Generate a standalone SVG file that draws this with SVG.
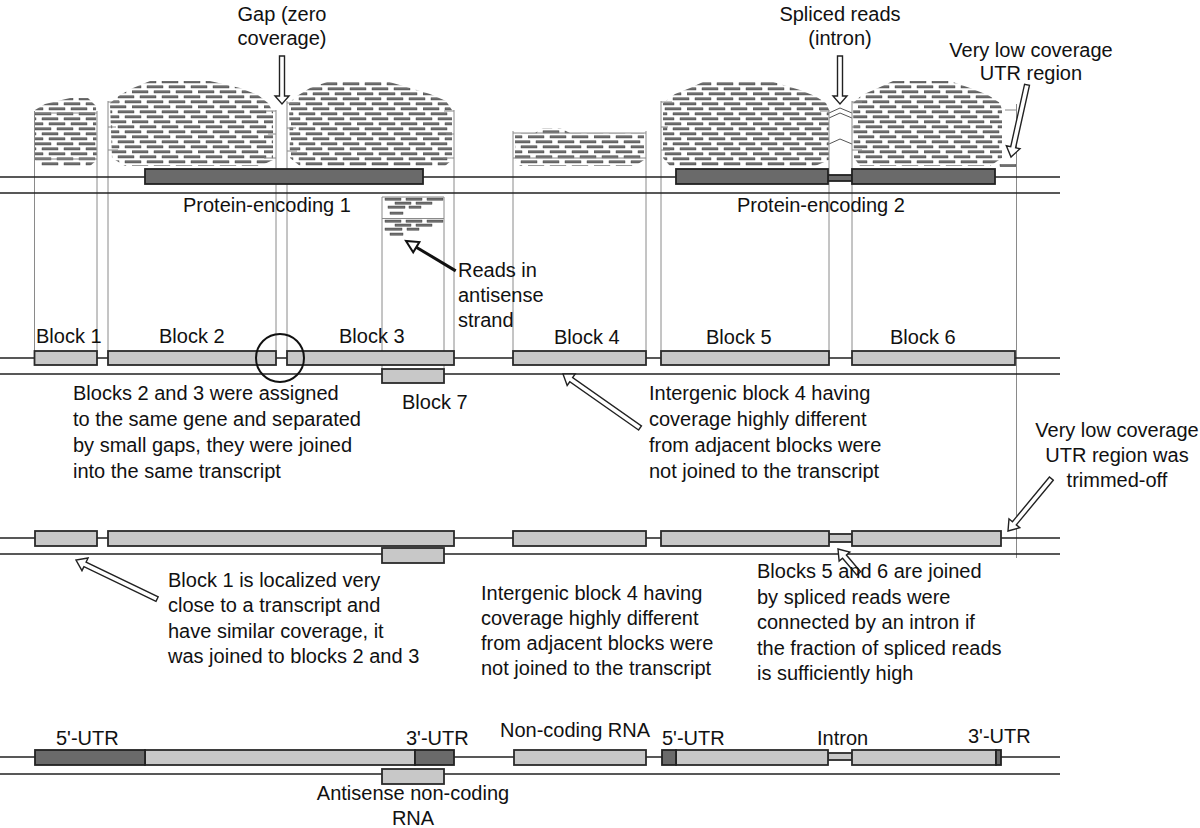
<svg xmlns="http://www.w3.org/2000/svg" width="1200" height="828" viewBox="0 0 1200 828">
<style>
text{font-family:"Liberation Sans",Arial,Helvetica,sans-serif;font-size:20px;fill:#111}
.trk{stroke:#222;stroke-width:1.6;fill:none}
.blk{fill:#c8c8c8;stroke:#2a2a2a;stroke-width:1.8}
.dk{fill:#6a6a6a;stroke:#222;stroke-width:1.8}
.vl{stroke:#8a8a8a;stroke-width:1;fill:none}
.hw{fill:#fff;stroke:#222;stroke-width:1.4}
.rd{fill:#6e6e6e;stroke:#333;stroke-width:0.4}
.sp{fill:none;stroke:#555;stroke-width:1}
</style>
<defs>
<pattern id="reads" width="66" height="15" patternUnits="userSpaceOnUse">
<rect class="rd" x="0" y="0.8" width="16" height="2.2"/>
<rect class="rd" x="22" y="0.8" width="16" height="2.2"/>
<rect class="rd" x="44" y="0.8" width="16" height="2.2"/>
<rect class="rd" x="-14" y="5.8" width="16" height="2.2"/>
<rect class="rd" x="8" y="5.8" width="16" height="2.2"/>
<rect class="rd" x="30" y="5.8" width="16" height="2.2"/>
<rect class="rd" x="52" y="5.8" width="16" height="2.2"/>
<rect class="rd" x="-7" y="10.8" width="16" height="2.2"/>
<rect class="rd" x="15" y="10.8" width="16" height="2.2"/>
<rect class="rd" x="37" y="10.8" width="16" height="2.2"/>
<rect class="rd" x="59" y="10.8" width="16" height="2.2"/>
</pattern>
<pattern id="reads2" width="66" height="15" patternUnits="userSpaceOnUse" patternTransform="translate(27,2)">
<rect class="rd" x="0" y="0.8" width="16" height="2.2"/>
<rect class="rd" x="22" y="0.8" width="16" height="2.2"/>
<rect class="rd" x="44" y="0.8" width="16" height="2.2"/>
<rect class="rd" x="-14" y="5.8" width="16" height="2.2"/>
<rect class="rd" x="8" y="5.8" width="16" height="2.2"/>
<rect class="rd" x="30" y="5.8" width="16" height="2.2"/>
<rect class="rd" x="52" y="5.8" width="16" height="2.2"/>
<rect class="rd" x="-7" y="10.8" width="16" height="2.2"/>
<rect class="rd" x="15" y="10.8" width="16" height="2.2"/>
<rect class="rd" x="37" y="10.8" width="16" height="2.2"/>
<rect class="rd" x="59" y="10.8" width="16" height="2.2"/>
</pattern>
</defs>

<!-- read piles -->
<g id="reads-piles">
<polygon fill="url(#reads2)" points="70,98 88,98 96,106 97,160 90,166 40,166 35,160 35,110 45,104"/>
<polygon fill="url(#reads)" points="150,81 210,81 240,88 258,95 268,103 273,112 273,160 260,166 125,166 112,158 110,103 120,95 133,88"/>
<polygon fill="url(#reads2)" points="330,81 386,81 410,88 430,94 446,101 452,110 452,160 445,166 300,166 290,158 289,103 297,96 310,88"/>
<polygon fill="url(#reads)" points="543,128 560,128 570,133 644,133 644,160 635,166 520,166 515,160 515,133 535,133"/>
<polygon fill="url(#reads2)" points="705,81 770,81 800,90 815,96 826,103 829,110 829,160 815,166 670,166 663,158 663,103 675,94 690,88"/>
<polygon fill="url(#reads)" points="893,81 950,81 970,88 988,95 1000,103 1002,110 1002,158 990,166 860,166 854,158 853,103 862,95 878,88"/>
<rect class="rd" x="1000" y="164.5" width="16" height="2.2"/>
<!-- spliced reads -->
<polyline class="sp" points="829,113 840,108 852,113"/>
<polyline class="sp" points="829,118 840,113 852,118"/>
<polyline class="sp" points="829,144 840,139 852,144"/>
<!-- antisense reads -->
<rect class="rd" x="385" y="198" width="16" height="2.2"/>
<rect class="rd" x="406" y="198" width="16" height="2.2"/>
<rect class="rd" x="427" y="198" width="16" height="2.2"/>
<rect class="rd" x="395" y="202" width="16" height="2.2"/>
<rect class="rd" x="416" y="202" width="16" height="2.2"/>
<rect class="rd" x="388" y="206" width="17" height="2.2"/>
<rect class="rd" x="409" y="206" width="12" height="2.2"/>
<rect class="rd" x="390" y="212" width="13" height="2.2"/>
<rect class="rd" x="385" y="220" width="16" height="2.2"/>
<rect class="rd" x="406" y="220" width="16" height="2.2"/>
<rect class="rd" x="427" y="220" width="16" height="2.2"/>
<rect class="rd" x="395" y="224" width="16" height="2.2"/>
<rect class="rd" x="416" y="224" width="16" height="2.2"/>
<rect class="rd" x="385" y="228" width="17" height="2.2"/>
<rect class="rd" x="407" y="228" width="12" height="2.2"/>
<rect class="rd" x="390" y="233" width="13" height="2.2"/>
</g>

<!-- block boundary guides -->
<g id="guides">
<path class="vl" d="M34.5,111V351 M97,111V351 M108,101V351 M276,110V351 M287,101V351 M454,110V351 M382,197V369 M444,197V369 M513,131V351 M646,131V351 M661,101V351 M829,110V351 M852,101V351 M1016.5,104V558"/>
<path class="vl" d="M34.5,113H97 M34.5,159H97 M108,102H120 M108,127H116 M108,150H118 M266,111H276 M268,134H276 M264,158H276 M287,103H298 M287,128H296 M287,151H297 M444,111H454 M446,134H454 M443,158H454 M382,197H444 M382,218.5H444 M513,133H646 M513,158H646 M661,102H672 M661,127H668 M661,150H670 M820,111H829 M852,102H862 M852,127H860 M852,150H862 M1005,110H1016"/>
</g>

<!-- track lines -->
<g id="tracks">
<path class="trk" d="M0,177H1060 M0,193H1060 M0,358H1060 M0,374H1060 M0,538H1060 M0,554H1060 M0,757H1060 M0,774H1060"/>
</g>

<!-- track 1 -->
<g id="protein1"><rect class="dk" x="145" y="169" width="278" height="15"/></g>
<g id="protein2">
<rect class="dk" x="828" y="175" width="24" height="6"/>
<rect class="dk" x="676" y="169" width="152" height="15"/>
<rect class="dk" x="852" y="169" width="143" height="15"/>
</g>

<!-- track 2 blocks -->
<g id="block1"><rect class="blk" x="34.5" y="351" width="62.5" height="14"/></g>
<g id="block2"><rect class="blk" x="108" y="351" width="168" height="14"/></g>
<g id="block3"><rect class="blk" x="287" y="351" width="167" height="14"/></g>
<g id="block4"><rect class="blk" x="513" y="351" width="133" height="14"/></g>
<g id="block5"><rect class="blk" x="661" y="351" width="168" height="14"/></g>
<g id="block6"><rect class="blk" x="852" y="351" width="163" height="14"/></g>
<g id="block7"><rect class="blk" x="382" y="369" width="62" height="14"/></g>
<g id="gap-circle"><circle cx="280" cy="358" r="24" fill="none" stroke="#111" stroke-width="2"/></g>

<!-- track 3 -->
<g id="t3-block1"><rect class="blk" x="35" y="531" width="62" height="15"/></g>
<g id="t3-block23"><rect class="blk" x="108" y="531" width="346" height="15"/></g>
<g id="t3-block7"><rect class="blk" x="382" y="548" width="62" height="15"/></g>
<g id="t3-block4"><rect class="blk" x="513" y="531" width="133" height="15"/></g>
<g id="t3-block56">
<rect class="blk" x="829" y="534" width="23" height="8"/>
<rect class="blk" x="661" y="531" width="168" height="15"/>
<rect class="blk" x="852" y="531" width="149" height="15"/>
</g>

<!-- track 4 -->
<g id="t4-transcript1">
<rect class="blk" x="145" y="750" width="270" height="15"/>
<rect class="dk" x="35" y="750" width="110" height="15"/>
<rect class="dk" x="415" y="750" width="39" height="15"/>
</g>
<g id="t4-antisense"><rect class="blk" x="382" y="769" width="62" height="15"/></g>
<g id="t4-noncoding"><rect class="blk" x="514" y="750" width="132" height="15"/></g>
<g id="t4-transcript2">
<rect class="blk" x="828" y="753" width="24" height="7"/>
<rect class="blk" x="676" y="750" width="152" height="15"/>
<rect class="dk" x="662" y="750" width="14" height="15"/>
<rect class="blk" x="852" y="750" width="144" height="15"/>
<rect class="dk" x="996" y="750" width="5" height="15"/>
</g>

<!-- connectors / arrows -->
<g id="connectors">
<path class="hw" transform="translate(282,104) rotate(90)" d="M-48,-2.5L-8,-2.5L-8,-7L0,0L-8,7L-8,2.5L-48,2.5Z"/>
<path class="hw" transform="translate(840,104) rotate(90)" d="M-48,-2.5L-8,-2.5L-8,-7L0,0L-8,7L-8,2.5L-48,2.5Z"/>
<path class="hw" transform="translate(1011,157) rotate(102.5)" d="M-74,-2.5L-10,-2.5L-10,-7L0,0L-10,7L-10,2.5L-74,2.5Z"/>
<path class="hw" transform="translate(563,374) rotate(215)" d="M-94,-2.5L-10,-2.5L-10,-7L0,0L-10,7L-10,2.5L-94,2.5Z"/>
<path class="hw" transform="translate(76,560) rotate(205.7)" d="M-90,-2.5L-10,-2.5L-10,-7L0,0L-10,7L-10,2.5L-90,2.5Z"/>
<path class="hw" transform="translate(838,549) rotate(229.7)" d="M-32,-2.5L-10,-2.5L-10,-7L0,0L-10,7L-10,2.5L-32,2.5Z"/>
<path class="hw" transform="translate(1008,531) rotate(129.6)" d="M-68,-2.5L-10,-2.5L-10,-7L0,0L-10,7L-10,2.5L-68,2.5Z"/>
<g transform="translate(406,241) rotate(211)">
<line x1="-58" y1="0" x2="-11" y2="0" stroke="#111" stroke-width="3"/>
<path d="M0,0L-12,-6L-12,6Z" fill="#fff" stroke="#111" stroke-width="2"/>
</g>
</g>

<!-- labels -->
<g id="labels">
<text x="282" y="21" text-anchor="middle">Gap (zero</text>
<text x="282" y="45" text-anchor="middle">coverage)</text>
<text x="840" y="21" text-anchor="middle">Spliced reads</text>
<text x="840" y="45" text-anchor="middle">(intron)</text>
<text x="1031" y="57" text-anchor="middle">Very low coverage</text>
<text x="1031" y="80" text-anchor="middle">UTR region</text>
<text x="183" y="212">Protein-encoding 1</text>
<text x="737" y="212">Protein-encoding 2</text>
<text x="458" y="277">Reads in</text>
<text x="458" y="302">antisense</text>
<text x="458" y="327">strand</text>
<text x="36" y="343">Block 1</text>
<text x="159" y="343">Block 2</text>
<text x="339" y="343">Block 3</text>
<text x="554" y="344">Block 4</text>
<text x="706" y="344">Block 5</text>
<text x="890" y="344">Block 6</text>
<text x="402" y="409">Block 7</text>
<text x="73" y="400">Blocks 2 and 3 were assigned</text>
<text x="73" y="426">to the same gene and separated</text>
<text x="73" y="452">by small gaps, they were joined</text>
<text x="73" y="478">into the same transcript</text>
<text x="649" y="400">Intergenic block 4 having</text>
<text x="649" y="426">coverage highly different</text>
<text x="649" y="452">from adjacent blocks were</text>
<text x="649" y="478">not joined to the transcript</text>
<text x="1117" y="437" text-anchor="middle">Very low coverage</text>
<text x="1117" y="462" text-anchor="middle">UTR region was</text>
<text x="1117" y="487" text-anchor="middle">trimmed-off</text>
<text x="168" y="587">Block 1 is localized very</text>
<text x="168" y="612">close to a transcript and</text>
<text x="168" y="638">have similar coverage, it</text>
<text x="168" y="663">was joined to blocks 2 and 3</text>
<text x="481" y="600">Intergenic block 4 having</text>
<text x="481" y="625">coverage highly different</text>
<text x="481" y="650">from adjacent blocks were</text>
<text x="481" y="675">not joined to the transcript</text>
<text x="757" y="578">Blocks 5 and 6 are joined</text>
<text x="757" y="604">by spliced reads were</text>
<text x="757" y="629">connected by an intron if</text>
<text x="757" y="655">the fraction of spliced reads</text>
<text x="757" y="680">is sufficiently high</text>
<text x="56" y="745">5'-UTR</text>
<text x="406" y="745">3'-UTR</text>
<text x="500" y="737">Non-coding RNA</text>
<text x="662" y="745">5'-UTR</text>
<text x="817" y="745">Intron</text>
<text x="968" y="743">3'-UTR</text>
<text x="413" y="800" text-anchor="middle">Antisense non-coding</text>
<text x="413" y="825" text-anchor="middle">RNA</text>
</g>
</svg>
